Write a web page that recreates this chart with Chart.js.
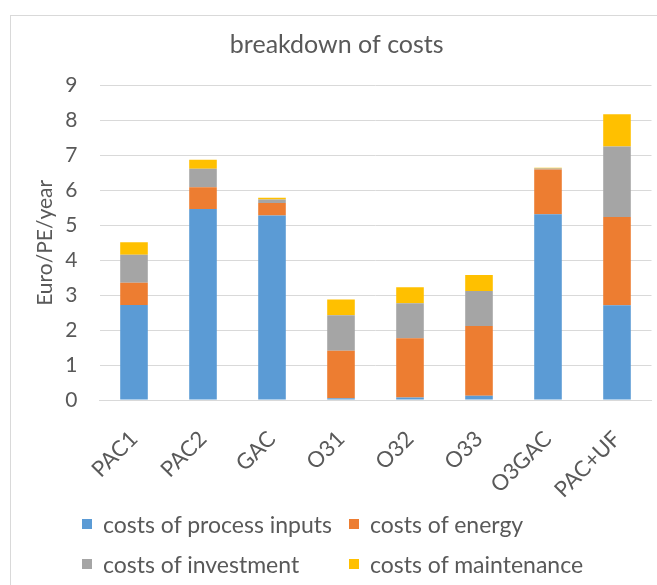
<!DOCTYPE html>
<html>
<head>
<meta charset="utf-8">
<script src="https://cdn.jsdelivr.net/npm/chart.js@4"></script>
<style>
  html, body { margin: 0; padding: 0; background: #fff; }
  #wrap { position: relative; width: 657px; height: 585px; overflow: hidden; background: #fff; }
  #frame { position: absolute; left: 10px; top: 15px; width: 700px; height: 600px; border: 1px solid #d9d9d9; box-sizing: border-box; }
  #c { position: absolute; left: 0; top: 0; }
  #legend { position: absolute; left: 82px; top: 510px; display: grid; grid-template-columns: 267px auto; row-gap: 13px;
            font-family: Lato, "Open Sans", sans-serif; font-size: 23px; color: #595959; }
  .item { display: flex; align-items: center; height: 27px; white-space: nowrap; }
  .box { width: 10px; height: 10px; margin-right: 11px; flex: none; }
</style>
</head>
<body>
<div id="wrap">
  <div id="frame"></div>
  <canvas id="c" width="657" height="585"></canvas>
  <div id="legend"></div>
</div>
<script>
const categories = ["PAC1", "PAC2", "GAC", "O31", "O32", "O33", "O3GAC", "PAC+UF"];
const processInputs = [2.72, 5.47, 5.28, 0.05, 0.07, 0.12, 5.32, 2.71];
const energy        = [0.64, 0.62, 0.36, 1.36, 1.70, 2.00, 1.28, 2.53];
const investment    = [0.80, 0.53, 0.10, 1.02, 1.00, 1.00, 0.03, 2.02];
const maintenance   = [0.36, 0.26, 0.05, 0.45, 0.46, 0.46, 0.02, 0.92];
const seriesNames = ["costs of process inputs", "costs of energy", "costs of investment", "costs of maintenance"];
const seriesColors = ["#5B9BD5", "#ED7D31", "#A5A5A5", "#FFC000"];
const yTicks = [0, 1, 2, 3, 4, 5, 6, 7, 8, 9];

const FONT = 'Lato, "Open Sans", sans-serif';
const TXT = '#595959';
const seriesData = [processInputs, energy, investment, maintenance];

const datasets = seriesNames.map((name, i) => ({
  label: name,
  data: seriesData[i],
  backgroundColor: seriesColors[i],
  borderWidth: 0,
  barPercentage: 0.4,
  categoryPercentage: 1.0
}));

new Chart(document.getElementById('c'), {
  type: 'bar',
  data: { labels: categories, datasets },
  options: {
    responsive: false,
    animation: false,
    layout: { padding: { left: 22, right: 5.5, top: 0, bottom: 85 } },
    plugins: {
      legend: { display: false },
      tooltip: { enabled: false },
      title: {
        display: true,
        text: 'breakdown of costs',
        color: TXT,
        font: { family: FONT, size: 25, weight: 'normal' },
        padding: { top: 30, bottom: 25.7 }
      }
    },
    scales: {
      x: {
        stacked: true,
        grid: { display: false },
        border: { display: true, color: '#d9d9d9', width: 1 },
        ticks: { color: TXT, font: { family: FONT, size: 22 }, maxRotation: 45, minRotation: 45, padding: 18 },
        afterFit: (axis) => { axis.height = 100; }
      },
      y: {
        stacked: true,
        min: 0,
        max: 9,
        afterBuildTicks: (axis) => { axis.ticks = yTicks.map(v => ({ value: v })); },
        grid: { color: '#d9d9d9', drawTicks: false, lineWidth: 1 },
        border: { display: false },
        ticks: { color: TXT, font: { family: FONT, size: 21 }, padding: 22 },
        title: { display: true, text: 'Euro/PE/year', color: TXT, font: { family: FONT, size: 21 }, padding: { top: 10.4, bottom: 0 } },
        afterFit: (axis) => { axis.width = 77.5; }
      }
    }
  }
});

const legend = document.getElementById('legend');
seriesNames.forEach((name, i) => {
  const it = document.createElement('div');
  it.className = 'item';
  const b = document.createElement('span');
  b.className = 'box';
  b.style.background = seriesColors[i];
  const t = document.createElement('span');
  t.textContent = name;
  it.appendChild(b); it.appendChild(t);
  legend.appendChild(it);
});
</script>
</body>
</html>
